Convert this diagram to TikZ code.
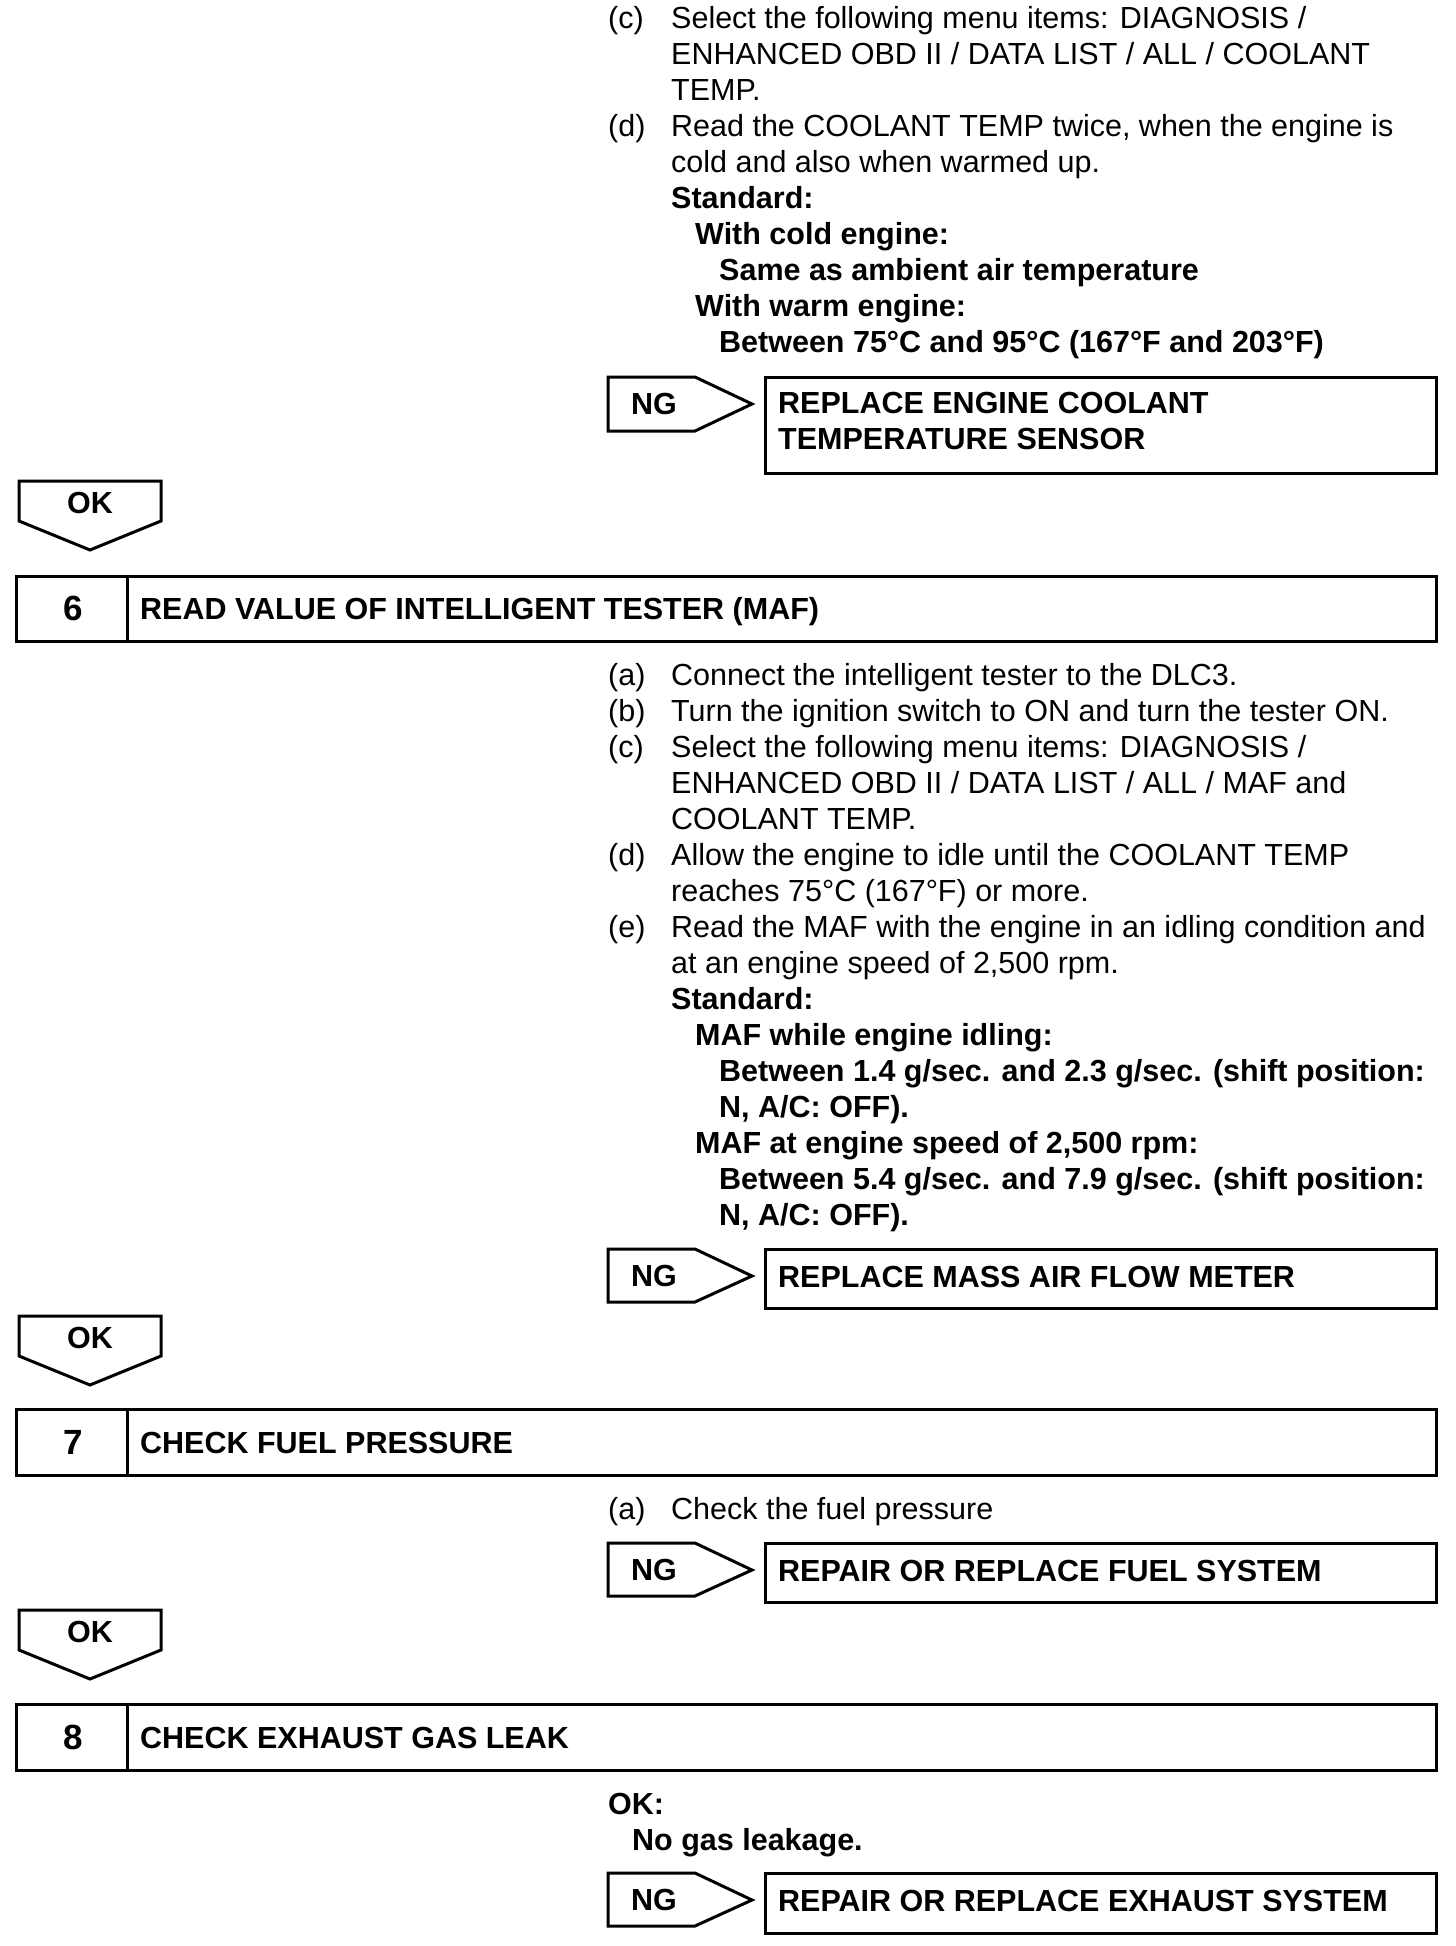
\documentclass[tikz,border=0pt]{standalone}
\usepackage{fontspec}
\setmainfont{Liberation Sans}
\begin{document}
\begin{tikzpicture}[x=1pt,y=-1pt,
  txt/.style={anchor=base west, inner sep=0pt, font=\fontsize{30.5}{36}\selectfont},
  btxt/.style={anchor=base west, inner sep=0pt, font=\fontsize{30.5}{36}\selectfont\bfseries},
  ctxt/.style={anchor=center, inner sep=0pt, font=\fontsize{30.5}{36}\selectfont\bfseries},
  numtxt/.style={anchor=center, inner sep=0pt, font=\fontsize{35}{40}\selectfont\bfseries},
  frame/.style={draw=black, line width=3pt, line join=miter}]
\useasboundingbox (0,0) rectangle (1456,1946);

% ---------- top block (step 5 continued)
\node[txt] (t5cl) at (608,28) {(c)};
\node[txt] (t5c1) at (671,28) {Select the following menu items: DIAGNOSIS /};
\node[txt] (t5c2) at (671,64) {ENHANCED OBD II / DATA LIST / ALL / COOLANT};
\node[txt] (t5c3) at (671,100) {TEMP.};
\node[txt] (t5dl) at (608,136) {(d)};
\node[txt] (t5d1) at (671,136) {Read the COOLANT TEMP twice, when the engine is};
\node[txt] (t5d2) at (671,172) {cold and also when warmed up.};
\node[btxt] (t5s) at (671,208) {Standard:};
\node[btxt] (t5s1) at (695,244) {With cold engine:};
\node[btxt] (t5s2) at (719,280) {Same as ambient air temperature};
\node[btxt] (t5s3) at (695,316) {With warm engine:};
\node[btxt] (t5s4) at (719,352) {Between 75°C and 95°C (167°F and 203°F)};

% NG 1
\draw[frame] (608,377) -- (695,377) -- (752,404) -- (695,431) -- (608,431) -- cycle;
\node[ctxt] (ng1) at (654,404) {NG};
\draw[frame] (765,377) rectangle (1436,473);
\node[btxt] (r1a) at (778,413) {REPLACE ENGINE COOLANT};
\node[btxt] (r1b) at (778,449) {TEMPERATURE SENSOR};

% OK 1
\draw[frame] (19,481) -- (161,481) -- (161,521) -- (90,550) -- (19,521) -- cycle;
\node[ctxt] (ok1) at (90,503) {OK};

% ---------- step 6
\draw[frame] (16,576) rectangle (1436,641);
\draw[frame] (127,576) -- (127,641);
\node[numtxt] (n6) at (73,608) {6};
\node[btxt] (h6) at (140,619) {READ VALUE OF INTELLIGENT TESTER (MAF)};

\node[txt] (s6al) at (608,685) {(a)};
\node[txt] (s6a) at (671,685) {Connect the intelligent tester to the DLC3.};
\node[txt] (s6bl) at (608,721) {(b)};
\node[txt] (s6b) at (671,721) {Turn the ignition switch to ON and turn the tester ON.};
\node[txt] (s6cl) at (608,757) {(c)};
\node[txt] (s6c1) at (671,757) {Select the following menu items: DIAGNOSIS /};
\node[txt] (s6c2) at (671,793) {ENHANCED OBD II / DATA LIST / ALL / MAF and};
\node[txt] (s6c3) at (671,829) {COOLANT TEMP.};
\node[txt] (s6dl) at (608,865) {(d)};
\node[txt] (s6d1) at (671,865) {Allow the engine to idle until the COOLANT TEMP};
\node[txt] (s6d2) at (671,901) {reaches 75°C (167°F) or more.};
\node[txt] (s6el) at (608,937) {(e)};
\node[txt] (s6e1) at (671,937) {Read the MAF with the engine in an idling condition and};
\node[txt] (s6e2) at (671,973) {at an engine speed of 2,500 rpm.};
\node[btxt] (s6s) at (671,1009) {Standard:};
\node[btxt] (s6s1) at (695,1045) {MAF while engine idling:};
\node[btxt] (s6s2) at (719,1081) {Between 1.4 g/sec. and 2.3 g/sec. (shift position:};
\node[btxt] (s6s3) at (719,1117) {N, A/C: OFF).};
\node[btxt] (s6s4) at (695,1153) {MAF at engine speed of 2,500 rpm:};
\node[btxt] (s6s5) at (719,1189) {Between 5.4 g/sec. and 7.9 g/sec. (shift position:};
\node[btxt] (s6s6) at (719,1225) {N, A/C: OFF).};

% NG 2
\draw[frame] (608,1249) -- (695,1249) -- (752,1276) -- (695,1302) -- (608,1302) -- cycle;
\node[ctxt] (ng2) at (654,1276) {NG};
\draw[frame] (765,1249) rectangle (1436,1308);
\node[btxt] (r2) at (778,1287) {REPLACE MASS AIR FLOW METER};

% OK 2
\draw[frame] (19,1316) -- (161,1316) -- (161,1356) -- (90,1385) -- (19,1356) -- cycle;
\node[ctxt] (ok2) at (90,1338) {OK};

% ---------- step 7
\draw[frame] (16,1409) rectangle (1436,1475);
\draw[frame] (127,1409) -- (127,1475);
\node[numtxt] (n7) at (73,1442) {7};
\node[btxt] (h7) at (140,1453) {CHECK FUEL PRESSURE};

\node[txt] (s7al) at (608,1519) {(a)};
\node[txt] (s7a) at (671,1519) {Check the fuel pressure};

% NG 3
\draw[frame] (608,1543) -- (695,1543) -- (752,1570) -- (695,1596) -- (608,1596) -- cycle;
\node[ctxt] (ng3) at (654,1570) {NG};
\draw[frame] (765,1543) rectangle (1436,1602);
\node[btxt] (r3) at (778,1581) {REPAIR OR REPLACE FUEL SYSTEM};

% OK 3
\draw[frame] (19,1610) -- (161,1610) -- (161,1650) -- (90,1679) -- (19,1650) -- cycle;
\node[ctxt] (ok3) at (90,1632) {OK};

% ---------- step 8
\draw[frame] (16,1704) rectangle (1436,1770);
\draw[frame] (127,1704) -- (127,1770);
\node[numtxt] (n8) at (73,1737) {8};
\node[btxt] (h8) at (140,1748) {CHECK EXHAUST GAS LEAK};

\node[btxt] (s8ok) at (608,1814) {OK:};
\node[btxt] (s8n) at (632,1850) {No gas leakage.};

% NG 4
\draw[frame] (608,1873) -- (695,1873) -- (752,1900) -- (695,1926) -- (608,1926) -- cycle;
\node[ctxt] (ng4) at (654,1900) {NG};
\draw[frame] (765,1873) rectangle (1436,1933);
\node[btxt] (r4) at (778,1911) {REPAIR OR REPLACE EXHAUST SYSTEM};
\end{tikzpicture}
\end{document}
